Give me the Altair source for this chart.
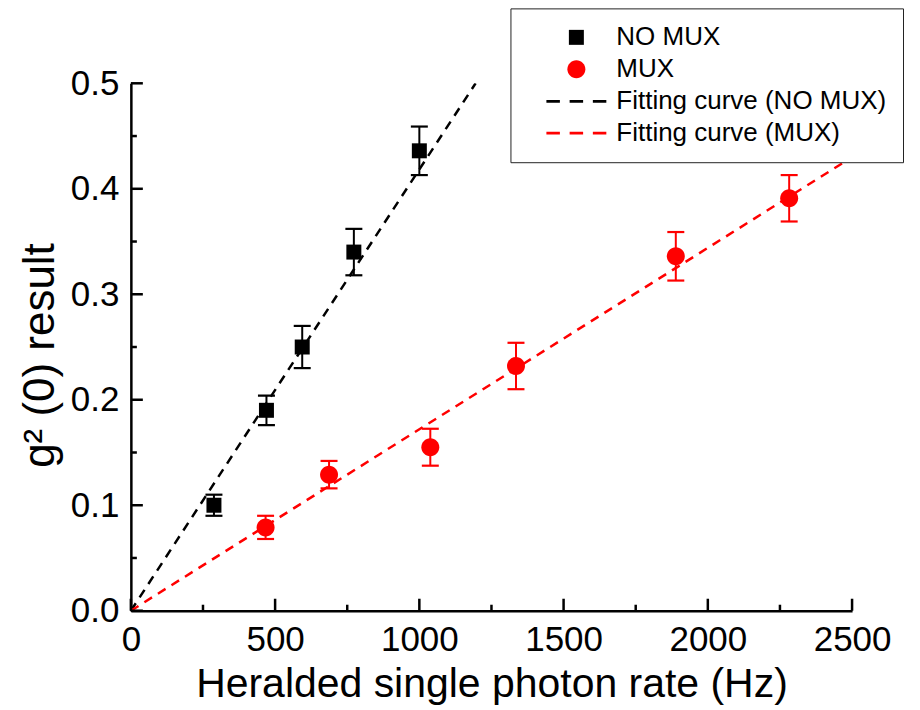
import altair as alt
import pandas as pd

# ---- data ----
nomux_x = [288, 470, 594, 773, 1000]
nomux_y = [0.100, 0.190, 0.250, 0.340, 0.436]
nomux_err = [0.010, 0.014, 0.020, 0.022, 0.023]

mux_x = [467, 687, 1038, 1335, 1889, 2282]
mux_y = [0.079, 0.129, 0.155, 0.232, 0.336, 0.391]
mux_err = [0.011, 0.013, 0.0175, 0.022, 0.023, 0.022]

fit_nomux_x = [0, 1195]
fit_nomux_y = [0.0, 0.5]
fit_mux_x = [0, 2500]
fit_mux_y = [0.0, 0.43]

series_names = ["NO MUX", "MUX", "Fitting curve (NO MUX)", "Fitting curve (MUX)"]
series_colors = ["#000000", "#ff0000", "#000000", "#ff0000"]

x_major = [0, 500, 1000, 1500, 2000, 2500]
x_minor = [250, 750, 1250, 1750, 2250]
y_major = [0.0, 0.1, 0.2, 0.3, 0.4, 0.5]
y_minor = [0.05, 0.15, 0.25, 0.35, 0.45]

# ---- layout constants ----
W, H = 722, 528
FONT = "Liberation Sans"
SYM = 625  # symbol size -> radius 12.5 px for custom paths

SQUARE = "M-0.6,-0.6H0.6V0.6H-0.6Z"
CIRCLE = "M-0.72,0A0.72,0.72,0,1,0,0.72,0A0.72,0.72,0,1,0,-0.72,0Z"
DASH = ("M-2.4,-0.11H-1.32V0.11H-2.4Z M-0.54,-0.11H0.54V0.11H-0.54Z "
        "M1.32,-0.11H2.4V0.11H1.32Z")

pts = pd.DataFrame({
    "x": nomux_x + mux_x,
    "y": nomux_y + mux_y,
    "err": nomux_err + mux_err,
    "series": ["NO MUX"] * len(nomux_x) + ["MUX"] * len(mux_x),
    "col": ["#000000"] * len(nomux_x) + ["#ff0000"] * len(mux_x),
})
pts["lo"] = pts["y"] - pts["err"]
pts["hi"] = pts["y"] + pts["err"]

fits = pd.DataFrame({
    "x": fit_nomux_x + fit_mux_x,
    "y": fit_nomux_y + fit_mux_y,
    "series": ["Fitting curve (NO MUX)"] * 2 + ["Fitting curve (MUX)"] * 2,
    "col": ["#000000"] * 2 + ["#ff0000"] * 2,
})

xs = alt.Scale(domain=[0, 2500], nice=False, zero=False)
ys = alt.Scale(domain=[0, 0.5], nice=False, zero=False)

x_axis = alt.Axis(values=x_major, format="d", title="Heralded single photon rate (Hz)",
                  ticks=False, grid=False, labelPadding=12, titlePadding=7,
                  labelFlush=False)
y_axis = alt.Axis(values=y_major, format=".1f", title="g² (0) result",
                  ticks=False, grid=False, labelPadding=12, titlePadding=8,
                  labelFlush=False, titleFontSize=44, titleY=272)

base_pts = alt.Chart(pts)

fit_lines = alt.Chart(fits).mark_line(strokeDash=[9, 7], strokeWidth=2.5, clip=True).encode(
    x=alt.X("x:Q", scale=xs, axis=x_axis),
    y=alt.Y("y:Q", scale=ys, axis=y_axis),
    color=alt.Color("col:N", scale=None),
    detail="series:N",
)

err_rule = base_pts.mark_rule(strokeWidth=2).encode(
    x="x:Q", y="lo:Q", y2="hi:Q", color=alt.Color("col:N", scale=None)
)
cap_lo = base_pts.mark_tick(orient="horizontal", size=17, thickness=2.2, opacity=1).encode(
    x="x:Q", y="lo:Q", color=alt.Color("col:N", scale=None)
)
cap_hi = base_pts.mark_tick(orient="horizontal", size=17, thickness=2.2, opacity=1).encode(
    x="x:Q", y="hi:Q", color=alt.Color("col:N", scale=None)
)

legend = alt.Legend(
    title=None, orient="none", legendX=380, legendY=-75, direction="vertical",
    strokeColor="#222222", fillColor="white", padding=16,
    symbolSize=SYM, symbolStrokeWidth=0, symbolOpacity=1, symbolOffset=37,
    labelFontSize=26, labelFont=FONT, labelColor="black", labelOffset=27,
    labelLimit=400, rowPadding=6,
)

points = base_pts.mark_point(filled=True, size=SYM, opacity=1, strokeWidth=0).encode(
    x="x:Q", y="y:Q",
    color=alt.Color("series:N", scale=alt.Scale(domain=series_names, range=series_colors),
                    legend=legend),
    shape=alt.Shape("series:N", scale=alt.Scale(domain=series_names,
                                               range=[SQUARE, CIRCLE, DASH, DASH]),
                    legend=legend),
)

# inward tick marks (Origin style)
xmaj = alt.Chart(pd.DataFrame({"v": x_major})).mark_rule(strokeWidth=2.5, color="black").encode(
    x="v:Q", y=alt.value(H), y2=alt.value(H - 12))
xmin = alt.Chart(pd.DataFrame({"v": x_minor})).mark_rule(strokeWidth=2.5, color="black").encode(
    x="v:Q", y=alt.value(H), y2=alt.value(H - 6))
ymaj = alt.Chart(pd.DataFrame({"v": y_major})).mark_rule(strokeWidth=2.5, color="black").encode(
    y="v:Q", x=alt.value(0), x2=alt.value(12))
ymin = alt.Chart(pd.DataFrame({"v": y_minor})).mark_rule(strokeWidth=2.5, color="black").encode(
    y="v:Q", x=alt.value(0), x2=alt.value(6))

chart = alt.layer(
    fit_lines, err_rule, cap_lo, cap_hi, points, xmaj, xmin, ymaj, ymin
).properties(
    width=W, height=H,
    autosize=alt.AutoSizeParams(type="none"),
    padding={"left": 123, "top": 75, "right": 60, "bottom": 95},
    background="white",
).configure_view(stroke=None).configure_axis(
    domainColor="black", domainWidth=2.5,
    labelFont=FONT, labelFontSize=35, labelColor="black",
    titleFont=FONT, titleFontSize=41, titleColor="black", titleFontWeight="normal",
)

chart.save("out.html", embed_options={"renderer": "svg", "actions": False})
